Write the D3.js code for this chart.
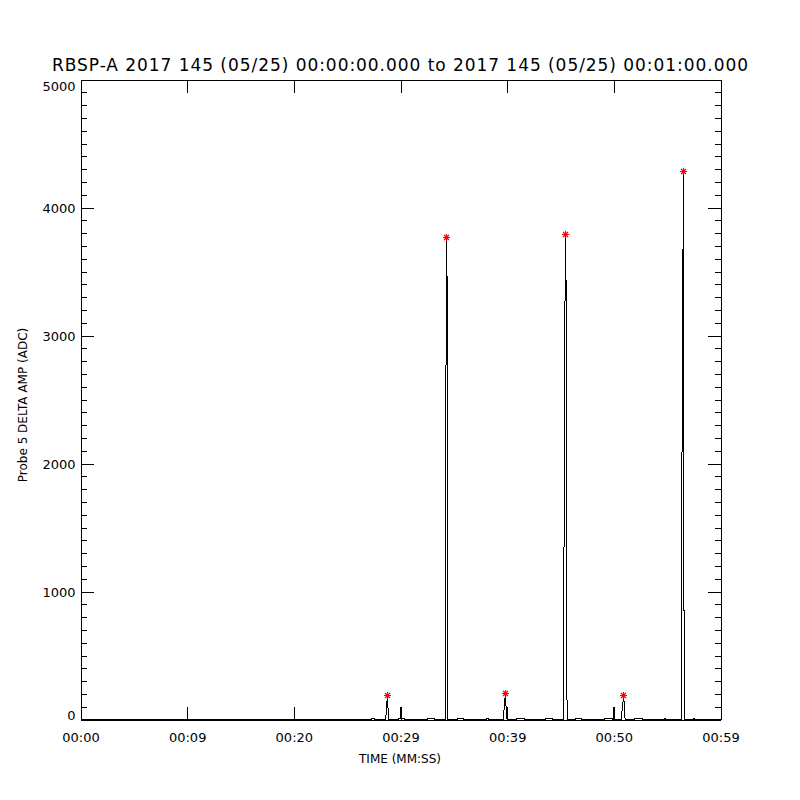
<!DOCTYPE html>
<html>
<head>
<meta charset="utf-8">
<script src="https://cdn.jsdelivr.net/npm/d3@7"></script>
<style>
    body { margin: 0; background: #fff; }
    text { font-family: "DejaVu Sans", sans-serif; fill: #000; }
</style>
</head>
<body>
<svg id="vis-svg"></svg>
<script>
/* chart data */
const titleText = "RBSP-A 2017 145 (05/25) 00:00:00.000 to 2017 145 (05/25) 00:01:00.000";
const xTitle = "TIME (MM:SS)";
const yTitle = "Probe 5 DELTA AMP (ADC)";

// x ticks (seconds) and the labels IDL printed for them
const tickSeconds = [0, 10, 20, 30, 40, 50, 60];
const tickLabels = ["00:00", "00:09", "00:20", "00:29", "00:39", "00:50", "00:59"];
const yMajorTicks = [0, 1000, 2000, 3000, 4000, 5000];

// sampled waveform, seconds / ADC
const sampleTimes = [
    0, 27.26, 27.28, 27.56, 27.58,
    28.62, 28.66, 28.78, 28.86, 28.90,
    29.79, 29.81, 30.01, 30.03, 30.05, 30.35, 30.37,
    32.51, 32.53, 33.19, 33.21,
    34.21, 34.22, 34.30, 34.31, 34.40, 34.41,
    35.32, 35.34, 35.91, 35.93,
    38.04, 38.06, 38.25, 38.27,
    39.64, 39.68, 39.75, 39.84, 39.95, 40.03, 40.07,
    40.86, 40.88, 41.63, 41.65,
    43.57, 43.59, 44.25, 44.27,
    45.32, 45.33, 45.42, 45.47, 45.52, 45.525, 45.61, 45.62,
    46.39, 46.41, 46.97, 46.99,
    49.11, 49.13, 49.88, 49.90,
    49.97, 50.00, 50.03,
    50.70, 50.74, 50.82, 50.93, 51.00, 51.06,
    51.92, 51.94, 52.69, 52.71,
    54.75, 54.76, 54.80, 54.81,
    56.33, 56.34, 56.435, 56.53, 56.535, 56.63, 56.635,
    57.47, 57.48, 57.52, 57.53,
    60
];
const sampleValues = [
    0, 0, 8, 8, 0,
    0, 64, 187, 26, 0,
    0, 8, 8, 101, 8, 8, 0,
    0, 8, 8, 0,
    0, 2094, 3227, 3766, 3227, 0,
    0, 8, 8, 0,
    0, 8, 8, 0,
    0, 39, 133, 200, 5, 101, 0,
    0, 8, 8, 0,
    0, 8, 8, 0,
    0, 1354, 3227, 3789, 3400, 180, 150, 0,
    0, 8, 8, 0,
    0, 8, 8, 0,
    0, 101, 0,
    0, 39, 109, 187, 70, 0,
    0, 8, 8, 0,
    0, 8, 8, 0,
    0, 987, 2987, 4281, 852, 852, 0,
    0, 8, 8, 0,
    0
];

// detected peaks (red asterisks)
const peakTimes = [28.78, 34.31, 39.84, 45.47, 50.93, 56.53];
const peakValues = [187, 3766, 200, 3789, 187, 4281];

/* draw */
const svg = d3.select("#vis-svg")
    .attr("width", 800)
    .attr("height", 800);

const xScale = d3.scaleLinear().domain([0, 60]).range([80, 720]);
const yScale = d3.scaleLinear().domain([0, 5000]).range([719, 79]);

let minorY = d3.range(0, 5001, 100).filter(v => v % 1000 !== 0);

// everything shifted half a pixel so 1px lines land on whole pixels
let frame = svg.append("g").attr("transform", "translate(0.5,0.5)");

// left axis
frame.append("g")
    .attr("class", "yAxis")
    .attr("transform", `translate(${80}, 0)`)
    .call(d3.axisLeft(yScale).tickValues(yMajorTicks).tickSize(-13).tickSizeOuter(0).tickPadding(5).tickFormat(d3.format("d")));
frame.append("g")
    .attr("transform", `translate(${80}, 0)`)
    .call(d3.axisLeft(yScale).tickValues(minorY).tickSize(-6).tickFormat(""))
    .select(".domain").remove();

// right axis
frame.append("g")
    .attr("transform", `translate(${720}, 0)`)
    .call(d3.axisRight(yScale).tickValues(yMajorTicks).tickSize(-13).tickSizeOuter(0).tickFormat(""));
frame.append("g")
    .attr("transform", `translate(${720}, 0)`)
    .call(d3.axisRight(yScale).tickValues(minorY).tickSize(-6).tickFormat(""))
    .select(".domain").remove();

// bottom axis
frame.append("g")
    .attr("class", "xAxis")
    .attr("transform", `translate(0, ${719})`)
    .call(d3.axisBottom(xScale).tickValues(tickSeconds).tickSize(-13).tickSizeOuter(0).tickPadding(13)
        .tickFormat((d, i) => tickLabels[i]));

// top axis
frame.append("g")
    .attr("transform", `translate(0, ${79})`)
    .call(d3.axisTop(xScale).tickValues(tickSeconds).tickSize(-13).tickSizeOuter(0).tickFormat(""));

frame.selectAll(".domain, .tick line")
    .attr("stroke", "#000")
    .attr("shape-rendering", "crispEdges");
frame.selectAll(".tick text")
    .style("font-size", "13px")
    .style("font-family", "'DejaVu Sans', sans-serif");

// IDL nudges the end labels inside the box
d3.select("g.yAxis").selectAll("g.tick").filter(d => d === 5000).select("text").attr("dy", "0.85em");
d3.select("g.yAxis").selectAll("g.tick").filter(d => d === 0).select("text").attr("dy", "0.02em");
d3.select("g.yAxis").selectAll("g.tick").filter(d => d !== 0 && d !== 5000).select("text").attr("dy", "0.42em");

// waveform
const series = sampleTimes.map((t, i) => [t, sampleValues[i]]);
const line = d3.line()
    .x(d => xScale(d[0]))
    .y(d => yScale(d[1]));

frame.append("path")
    .datum(series)
    .attr("d", line)
    .attr("fill", "none")
    .attr("stroke", "#000")
    .attr("stroke-width", 1)
    .attr("shape-rendering", "crispEdges");

// asterisks on the peaks
const star = "M-3.5,0H3.5M0,-3.5V3.5M-2.5,-2.5L2.5,2.5M-2.5,2.5L2.5,-2.5";
frame.selectAll("path.peak")
    .data(peakTimes)
    .enter()
        .append("path")
        .attr("class", "peak")
        .attr("transform", (d, i) => `translate(${Math.round(xScale(d))}, ${Math.round(yScale(peakValues[i]))})`)
        .attr("d", star)
        .attr("fill", "none")
        .attr("stroke", "#ff0000")
        .attr("stroke-width", 1.2);

// titles
svg.append("text")
    .attr("x", 400)
    .attr("y", 71)
    .attr("text-anchor", "middle")
    .attr("textLength", 696)
    .style("font-size", "17px")
    .text(titleText);

svg.append("text")
    .attr("x", 400)
    .attr("y", 763)
    .attr("text-anchor", "middle")
    .style("font-size", "12px")
    .text(xTitle);

svg.append("text")
    .attr("transform", `translate(${27}, ${405}) rotate(-90)`)
    .attr("text-anchor", "middle")
    .style("font-size", "12px")
    .text(yTitle);
</script>
</body>
</html>
